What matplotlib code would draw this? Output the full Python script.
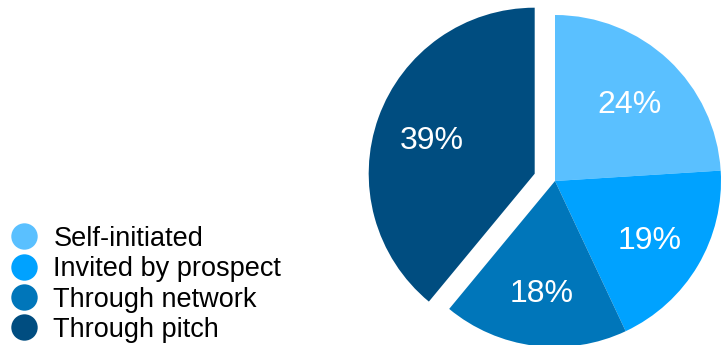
import matplotlib.pyplot as plt
from matplotlib.lines import Line2D

labels = ['Self-initiated', 'Invited by prospect', 'Through network', 'Through pitch']
shares = [24, 19, 18, 39]
colors = ['#5AC0FF', '#00A2FF', '#0076BA', '#004D80']
explode = [0, 0, 0, 0.13]

plt.rcParams['font.family'] = ['Liberation Sans', 'DejaVu Sans']

W, H = 723, 345
fig = plt.figure(figsize=(W / 100, H / 100), dpi=100)
ax = fig.add_axes([0, 0, 1, 1])

wedges, texts, autotexts = ax.pie(
    shares, colors=colors, explode=explode, startangle=90, counterclock=False,
    autopct='%d%%', pctdistance=0.66,
    textprops={'color': 'white', 'fontsize': 23},
    wedgeprops={'linewidth': 0},
)

# pie centre at (555, 181) px from top-left, radius 166 px
r = 166
cx, cy = 555, H - 181
ax.set_aspect('auto')
ax.set_xlim(-cx / r, (W - cx) / r)
ax.set_ylim(-cy / r, (H - cy) / r)
ax.axis('off')

# nudge the percentages down a touch so the digits sit centred
for t in autotexts:
    t.set_y(t.get_position()[1] - 4 / r)

handles = [Line2D([], [], marker='o', linestyle='', markersize=19,
                  markerfacecolor=c, markeredgewidth=0) for c in colors]
fig.legend(handles, labels, loc='lower left', bbox_to_anchor=(6 / W, -2 / H),
           frameon=False, fontsize=19.5, handlelength=1.0, handletextpad=0.6,
           labelspacing=0.16, borderpad=0.15, borderaxespad=0.0)

fig.savefig('out.png', dpi=100)
